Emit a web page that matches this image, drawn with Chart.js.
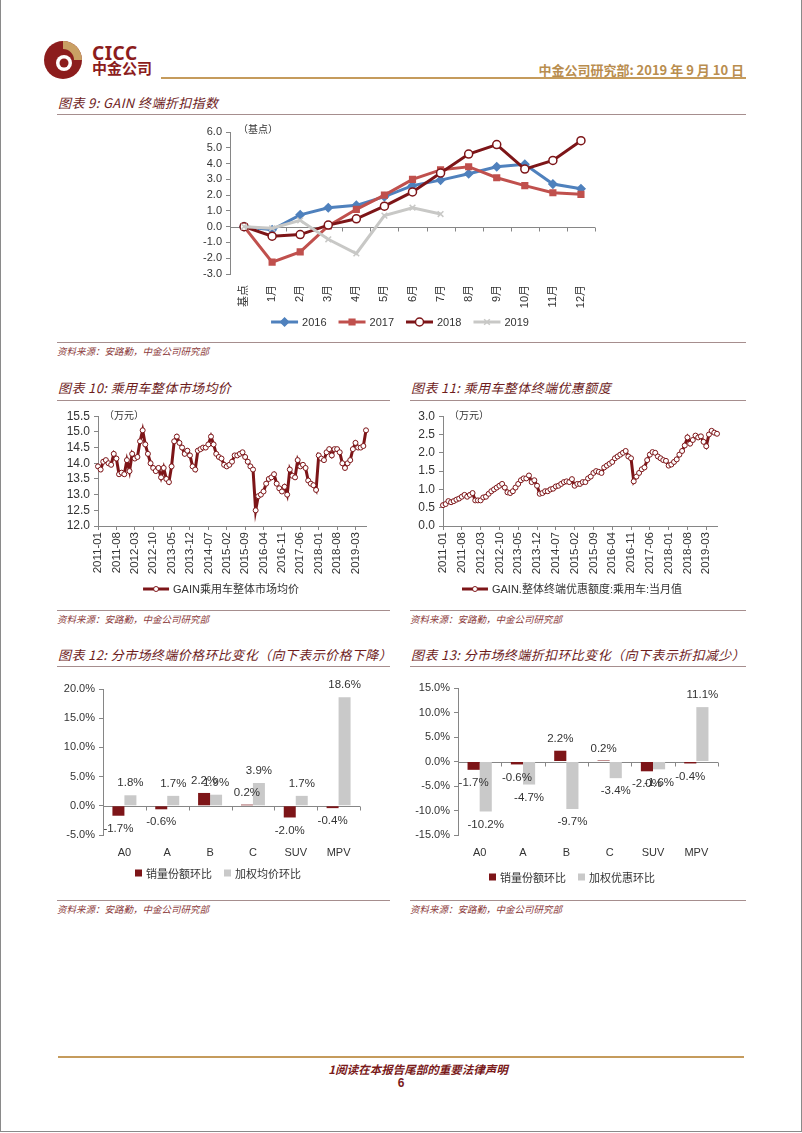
<!DOCTYPE html>
<html>
<head>
<meta charset="utf-8">
<script src="https://cdn.jsdelivr.net/npm/chart.js@4.4.0/dist/chart.umd.min.js"></script>
<style>
    html, body { margin: 0; padding: 0; background: #fff; }
    body { width: 802px; height: 1133px; position: relative; overflow: hidden; font-family: "Liberation Sans", Arial, sans-serif; }
    .frame { position: absolute; left: 0; top: -2px; width: 800px; height: 1132px; border: 1px solid #8a8a8a; }
    .title { position: absolute; font-family: "Noto Sans CJK SC", sans-serif; font-style: italic; font-size: 13px; color: #6e1c1c; white-space: nowrap; line-height: 16px; letter-spacing: 0.4px; }
    .rule { position: absolute; height: 0; border-top: 1px solid #a68e8e; }
    .src { position: absolute; font-family: "Noto Sans CJK SC", sans-serif; font-style: italic; font-size: 9.5px; color: #8c3b3b; white-space: nowrap; line-height: 12px; }
    .gold { position: absolute; height: 2px; background: #c59b5c; }
    canvas { position: absolute; }
</style>
</head>
<body>
<div class="frame"></div>

<!-- header -->
<svg style="position:absolute;left:43px;top:40px" width="40" height="40" viewBox="0 0 40 40">
    <circle cx="20" cy="20" r="19" fill="#8c1d1d"/>
    <path d="M20 1 A19 19 0 0 1 39 20 L31 20 A11 11 0 0 0 20 9 Z" fill="#c9a064"/>
    <circle cx="21" cy="23" r="8" fill="#fff"/>
    <circle cx="21" cy="23" r="4.5" fill="#8c1d1d"/>
</svg>
<div style="position:absolute;left:92px;top:40px;font:bold 19px 'Noto Sans','Liberation Sans';color:#8c1d1d;letter-spacing:0.5px">CICC</div>
<div style="position:absolute;left:92px;top:59px;font:bold 15px 'Noto Sans CJK SC';color:#8c1d1d;line-height:18px">中金公司</div>
<div class="gold" style="left:161px;top:77px;width:585px"></div>
<div style="position:absolute;right:58px;top:60px;font:bold 13px 'Noto Sans CJK SC';color:#b98d4e;white-space:nowrap">中金公司研究部: 2019 年 9 月 10 日</div>

<!-- figure 9 -->
<div class="title" style="left:58px;top:95px">图表 9: GAIN 终端折扣指数</div>
<div class="rule" style="left:57px;top:114px;width:689px"></div>
<canvas id="c9" width="420" height="220" style="left:190px;top:120px"></canvas>
<div class="rule" style="left:57px;top:342px;width:689px"></div>
<div class="src" style="left:57px;top:345px">资料来源：安路勤，中金公司研究部</div>

<!-- figures 10 / 11 -->
<div class="title" style="left:58px;top:380px">图表 10: 乘用车整体市场均价</div>
<div class="rule" style="left:57px;top:400px;width:333px"></div>
<div class="title" style="left:411px;top:380px">图表 11: 乘用车整体终端优惠额度</div>
<div class="rule" style="left:410px;top:400px;width:336px"></div>
<canvas id="c10" width="330" height="200" style="left:50px;top:405px"></canvas>
<canvas id="c11" width="340" height="200" style="left:400px;top:405px"></canvas>
<div class="rule" style="left:57px;top:610px;width:333px"></div>
<div class="src" style="left:57px;top:613px">资料来源：安路勤，中金公司研究部</div>
<div class="rule" style="left:410px;top:610px;width:336px"></div>
<div class="src" style="left:410px;top:613px">资料来源：安路勤，中金公司研究部</div>

<!-- figures 12 / 13 -->
<div class="title" style="left:58px;top:647px">图表 12: 分市场终端价格环比变化（向下表示价格下降）</div>
<div class="rule" style="left:57px;top:666px;width:333px"></div>
<div class="title" style="left:411px;top:647px">图表 13: 分市场终端折扣环比变化（向下表示折扣减少）</div>
<div class="rule" style="left:410px;top:666px;width:336px"></div>
<canvas id="c12" width="340" height="215" style="left:50px;top:670px"></canvas>
<canvas id="c13" width="345" height="215" style="left:400px;top:670px"></canvas>
<div class="rule" style="left:57px;top:900px;width:333px"></div>
<div class="src" style="left:57px;top:903px">资料来源：安路勤，中金公司研究部</div>
<div class="rule" style="left:410px;top:900px;width:336px"></div>
<div class="src" style="left:410px;top:903px">资料来源：安路勤，中金公司研究部</div>

<!-- footer -->
<div class="gold" style="left:58px;top:1056px;width:686px"></div>
<div style="position:absolute;left:0;width:836px;text-align:center;top:1061px;font:italic bold 11.5px 'Noto Sans CJK SC';color:#7a1a1a">1阅读在本报告尾部的重要法律声明</div>
<div style="position:absolute;left:0;width:802px;text-align:center;top:1076px;font:bold 12px 'Liberation Sans';color:#7a1a1a">6</div>

<script>
// --- data ---
const gainLabels = ['基点', '1月', '2月', '3月', '4月', '5月', '6月', '7月', '8月', '9月', '10月', '11月', '12月'];
const gain2016 = [0, -0.2, 0.75, 1.2, 1.35, 1.9, 2.6, 2.95, 3.35, 3.8, 3.95, 2.7, 2.4];
const gain2017 = [0, -2.25, -1.6, 0.05, 1.1, 2.0, 3.0, 3.6, 3.8, 3.1, 2.6, 2.15, 2.05];
const gain2018 = [0, -0.6, -0.5, 0.1, 0.5, 1.3, 2.2, 3.4, 4.6, 5.2, 3.65, 4.2, 5.45];
const gain2019 = [0, -0.1, 0.4, -0.8, -1.7, 0.7, 1.2, 0.8];

// monthly, 2011-01 .. 2019-07
const avgPrice = [
    13.9, 13.8, 14.05, 14.1, 14.0, 13.95, 14.3, 14.15, 13.65, 13.7, 13.65, 14.1,
    13.75, 14.3, 14.15, 14.2, 14.7, 15.05, 14.6, 14.3, 14.0, 13.85, 13.75, 13.85,
    13.55, 13.85, 13.5, 13.4, 13.9, 14.7, 14.85, 14.65, 14.5, 14.3, 14.4, 14.25,
    13.9, 13.8, 14.4, 14.45, 14.5, 14.5, 14.6, 14.85, 14.6, 14.3, 14.2, 14.15,
    13.95, 13.9, 13.95, 14.05, 14.25, 14.25, 14.3, 14.35, 14.2, 14.05, 13.9, 13.8,
    12.5, 12.95, 13.0, 13.1, 13.35, 13.5, 13.55, 13.65, 13.35, 13.2, 13.1, 13.25,
    13.0, 13.8, 13.6, 13.55, 14.1, 13.9, 13.95, 13.85, 13.45, 13.35, 13.3, 13.15,
    14.25, 14.15, 14.1, 14.35, 14.45, 14.25, 14.45, 14.45, 14.35, 14.0, 13.85, 14.0,
    14.1, 14.45, 14.65, 14.5, 14.5, 14.55, 15.05
];
const discountAmt = [
    0.57, 0.6, 0.68, 0.65, 0.68, 0.72, 0.75, 0.8, 0.85, 0.8, 0.85, 0.9,
    0.7, 0.7, 0.7, 0.78, 0.8, 0.88, 0.95, 1.0, 1.05, 1.1, 1.15, 1.05,
    0.92, 0.9, 0.95, 1.05, 1.15, 1.25, 1.3, 1.3, 1.38, 1.2, 1.25, 1.1,
    0.88, 0.9, 0.95, 0.95, 1.0, 1.02, 1.08, 1.1, 1.15, 1.2, 1.22, 1.2,
    1.28, 1.1, 1.15, 1.15, 1.2, 1.2, 1.3, 1.35, 1.45, 1.5, 1.48, 1.45,
    1.6, 1.65, 1.7, 1.75, 1.85, 1.9, 1.95, 2.0, 2.05, 1.9, 1.85, 1.22,
    1.35, 1.45, 1.55, 1.6, 1.8, 1.95, 2.02, 2.0, 1.9, 1.85, 1.8, 1.78,
    1.65, 1.68, 1.75, 1.82, 1.95, 2.05, 2.2, 2.42, 2.25, 2.35, 2.47, 2.42,
    2.45, 2.3, 2.18, 2.5, 2.6, 2.55, 2.52
];
const monthStart = 2011, monthCount = 103, monthLabelStep = 7;
const months = [];
for (let i = 0; i < monthCount; i++) {
    const y = monthStart + Math.floor(i / 12), m = (i % 12) + 1;
    months.push(y + '-' + String(m).padStart(2, '0'));
}

const segments = ['A0', 'A', 'B', 'C', 'SUV', 'MPV'];
const salesShareChg = [-1.7, -0.6, 2.2, 0.2, -2.0, -0.4];
const weightedPriceChg = [1.8, 1.7, 1.9, 3.9, 1.7, 18.6];
const weightedDiscountChg = [-10.2, -4.7, -9.7, -3.4, -1.6, 11.1];

// --- styles ---
const DARK = '#7d1518';
const GREY_BAR = '#c9c9c9';
const AXIS = '#868686';
const TEXT = '#333333';
const FONT = '"Liberation Sans", Arial, "Noto Sans CJK SC", sans-serif';
const CJK = '"Noto Sans CJK SC", sans-serif';

// zero line with tick marks at category borders
const zeroAxis = {
    id: 'zeroAxis',
    beforeDatasetsDraw(chart) {
        const { ctx, chartArea: a, scales } = chart;
        const y0 = Math.round(scales.y.getPixelForValue(0)) + 0.5;
        const n = chart.data.labels.length;
        ctx.save();
        ctx.strokeStyle = AXIS;
        ctx.lineWidth = 1;
        ctx.beginPath();
        ctx.moveTo(a.left, y0);
        ctx.lineTo(a.right, y0);
        for (let i = 1; i <= n; i++) {
            const x = Math.round(a.left + i * a.width / n) + 0.5;
            ctx.moveTo(x, y0);
            ctx.lineTo(x, y0 + 4);
        }
        ctx.stroke();
        ctx.restore();
    }
};

// unit text at top-left of plot
const unitText = {
    id: 'unitText',
    afterDraw(chart, args, opts) {
        if (!opts.text) return;
        const { ctx, chartArea: a } = chart;
        ctx.save();
        ctx.font = '10px ' + CJK;
        ctx.fillStyle = TEXT;
        ctx.textBaseline = 'middle';
        ctx.fillText(opts.text, a.left + opts.dx, a.top + opts.dy);
        ctx.restore();
    }
};

// legend drawn under the chart
const bottomLegend = {
    id: 'bottomLegend',
    afterDraw(chart, args, opts) {
        if (!opts.y) return;
        const ctx = chart.ctx;
        ctx.save();
        ctx.font = opts.font;
        const sym = opts.kind === 'line' ? opts.lineLen : 7;
        const items = chart.data.datasets.map(ds => {
            const w = sym + 4 + ctx.measureText(ds.label).width;
            return { ds, w };
        });
        let total = items.reduce((s, it) => s + it.w, 0) + opts.gap * (items.length - 1);
        let x = opts.cx - total / 2;
        const y = opts.y;
        items.forEach(({ ds, w }) => {
            if (opts.kind === 'line') {
                ctx.strokeStyle = ds.borderColor;
                ctx.lineWidth = ds.borderWidth;
                ctx.beginPath();
                ctx.moveTo(x, y);
                ctx.lineTo(x + sym, y);
                ctx.stroke();
                ctx.fillStyle = ds.pointBackgroundColor;
                ctx.strokeStyle = ds.pointBorderColor;
                ctx.lineWidth = ds.pointBorderWidth;
                Chart.helpers.drawPoint(ctx, {
                    pointStyle: ds.pointStyle, radius: ds.pointRadius,
                    rotation: 0, borderWidth: ds.pointBorderWidth
                }, x + sym / 2, y);
            } else {
                ctx.fillStyle = ds.backgroundColor;
                ctx.fillRect(x, y - 3.5, 7, 7);
            }
            ctx.fillStyle = TEXT;
            ctx.textBaseline = 'middle';
            ctx.fillText(ds.label, x + sym + 4, y + 0.5);
            x += w + opts.gap;
        });
        ctx.restore();
    }
};

// value labels on bars
const barLabels = {
    id: 'barLabels',
    afterDatasetsDraw(chart) {
        const ctx = chart.ctx;
        ctx.save();
        ctx.font = '11.5px ' + FONT;
        ctx.fillStyle = TEXT;
        ctx.textAlign = 'center';
        ctx.textBaseline = 'middle';
        chart.data.datasets.forEach((ds, di) => {
            chart.getDatasetMeta(di).data.forEach((bar, i) => {
                const v = ds.data[i];
                const y = v >= 0 ? bar.y - 12 : bar.y + 13;
                ctx.fillText(v.toFixed(1) + '%', bar.x, y);
            });
        });
        ctx.restore();
    }
};

Chart.register(unitText, bottomLegend);

function yAxis(width, min, max, step, fmt, size) {
    return {
        min, max,
        afterFit(scale) { scale.width = width; },
        border: { display: true, color: AXIS },
        grid: { display: true, drawOnChartArea: false, drawTicks: true, tickLength: 4, color: AXIS },
        ticks: { stepSize: step, autoSkip: false, color: TEXT, padding: 4, font: { family: FONT, size }, callback: fmt }
    };
}

// --- 图表 9 ---
const pt = (color, style, r, fill) => ({
    borderColor: color, borderWidth: 3, pointStyle: style, pointRadius: r,
    pointBackgroundColor: fill || color, pointBorderColor: color, pointBorderWidth: 1.5,
    tension: 0
});
new Chart(document.getElementById('c9'), {
    type: 'line',
    data: {
        labels: gainLabels,
        datasets: [
            { label: '2016', data: gain2016, order: 3, ...pt('#4f81bd', 'rectRot', 4) },
            { label: '2017', data: gain2017, order: 2, ...pt('#c0504d', 'rect', 4) },
            { label: '2018', data: gain2018, order: 1, ...pt(DARK, 'circle', 4, '#ffffff') },
            { label: '2019', data: gain2019, order: 0, ...pt('#c8c8c6', 'crossRot', 4) }
        ]
    },
    options: {
        responsive: false, animation: false,
        layout: { padding: { top: 12, right: 15, bottom: 30, left: 0 } },
        plugins: {
            legend: { display: false }, tooltip: { enabled: false },
            unitText: { text: '（基点）', dx: 8, dy: -3 },
            bottomLegend: { y: 202, cx: 210, kind: 'line', lineLen: 27, gap: 12, font: '11px ' + FONT }
        },
        scales: {
            x: {
                offset: true,
                afterFit(scale) { scale.height = 36; },
                border: { display: false }, grid: { display: false },
                ticks: { autoSkip: false, minRotation: 90, maxRotation: 90, padding: 3, color: TEXT, font: { family: FONT, size: 11 } }
            },
            y: yAxis(40, -3, 6, 1, v => v.toFixed(1), 11)
        }
    },
    plugins: [zeroAxis]
});

// --- 图表 10 / 11 ---
function monthChart(id, label, values, min, max, width, pad, legendCx) {
    new Chart(document.getElementById(id), {
        type: 'line',
        data: {
            labels: months,
            datasets: [{
                label, data: values,
                borderColor: DARK, borderWidth: 3, tension: 0,
                pointStyle: 'circle', pointRadius: 2.5,
                pointBackgroundColor: '#ffffff', pointBorderColor: DARK, pointBorderWidth: 1
            }]
        },
        options: {
            responsive: false, animation: false,
            layout: { padding: { top: 11, right: pad, bottom: 30, left: 0 } },
            plugins: {
                legend: { display: false }, tooltip: { enabled: false },
                unitText: { text: '（万元）', dx: 6, dy: -1 },
                bottomLegend: { y: 184, cx: legendCx, kind: 'line', lineLen: 26, gap: 10, font: '11px ' + FONT }
            },
            scales: {
                x: {
                    afterFit(scale) { scale.height = 49; },
                    border: { display: true, color: AXIS },
                    grid: { display: true, drawOnChartArea: false, tickLength: 4, color: AXIS },
                    ticks: {
                        autoSkip: false, minRotation: 90, maxRotation: 90, padding: 2, color: TEXT,
                        font: { family: FONT, size: 11.5 },
                        callback(v, i) { return i % monthLabelStep === 0 ? months[i] : null; }
                    }
                },
                y: yAxis(width, min, max, 0.5, v => v.toFixed(1), 12)
            }
        }
    });
}
monthChart('c10', 'GAIN乘用车整体市场均价', avgPrice, 12, 15.5, 48, 14, 171);
monthChart('c11', 'GAIN.整体终端优惠额度:乘用车:当月值', discountAmt, 0, 3, 43, 23, 172);

// --- 图表 12 / 13 ---
function barChart(id, label2, values2, min, max, width, pad, top, legendY, legendCx) {
    new Chart(document.getElementById(id), {
        type: 'bar',
        data: {
            labels: segments,
            datasets: [
                { label: '销量份额环比', data: salesShareChg, backgroundColor: DARK },
                { label: label2, data: values2, backgroundColor: GREY_BAR }
            ]
        },
        options: {
            responsive: false, animation: false,
            datasets: { bar: { barPercentage: 1, categoryPercentage: 0.56 } },
            layout: { padding: { top, right: pad, bottom: 20, left: 0 } },
            plugins: {
                legend: { display: false }, tooltip: { enabled: false },
                bottomLegend: { y: legendY, cx: legendCx, kind: 'box', gap: 12, font: '11px ' + CJK }
            },
            scales: {
                x: {
                    afterFit(scale) { scale.height = 30; },
                    border: { display: false }, grid: { display: false },
                    ticks: { padding: 3, color: TEXT, font: { family: FONT, size: 11 } }
                },
                y: yAxis(width, min, max, 5, v => v.toFixed(1) + '%', 11)
            }
        },
        plugins: [zeroAxis, barLabels]
    });
}
barChart('c12', '加权均价环比', weightedPriceChg, -5, 20, 53, 30, 19, 203, 168);
barChart('c13', '加权优惠环比', weightedDiscountChg, -15, 15, 58, 27, 18, 207, 172);
</script>
</body>
</html>
